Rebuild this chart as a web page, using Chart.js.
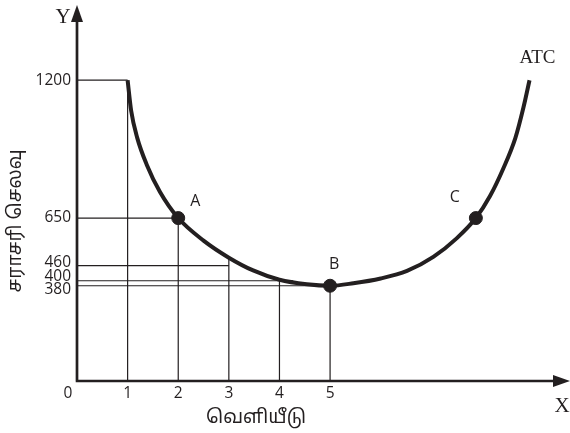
<!DOCTYPE html>
<html>
<head>
<meta charset="utf-8">
<title>ATC</title>
<script src="https://cdn.jsdelivr.net/npm/chart.js"></script>
<style>
  body { margin: 0; background: #fff; }
  canvas { display: block; }
</style>
</head>
<body>
<canvas id="myChart" width="570" height="433"></canvas>
<script>
// ATC curve
var output = [1, 1.07, 1.19, 1.38, 1.64, 2, 2.5, 3, 3.48, 4, 4.54, 5, 5.46, 6, 6.52, 7.04, 7.5, 7.88, 8.16, 8.42, 8.66, 8.82, 8.94];
var cost = [1200, 1078, 970, 862, 754, 650, 560, 492, 441, 404, 386, 380, 390, 409, 439, 495, 569, 650, 738, 847, 969, 1091, 1200];

// named points
var pointNames = ['A', 'B', 'C'];
var pointX = [2, 5, 7.88];
var pointY = [650, 380, 650];

// guide lines down to the axes
var guideX = [1, 2, 3, 4, 5];
var guideY = [1200, 650, 460, 400, 380];
var guideEndX = [1, 2, 3, 4.27, 5];
var guideTop = [1200, 650, 492, 404, 380];

var xTicks = [0, 1, 2, 3, 4, 5];
var yTicks = [1200, 650, 460, 400, 380];

var ink = '#231f20';
var tamil = '"Noto Sans Tamil", "Noto Sans", "DejaVu Sans", sans-serif';
var sans = '"Open Sans", "Noto Sans", sans-serif';
var serif = '"Liberation Serif", "DejaVu Serif", serif';

var datasets = [];
datasets.push({
    label: 'ATC',
    data: output.map(function (x, i) { return { x: x, y: cost[i] }; }),
    showLine: true,
    borderColor: ink,
    borderWidth: 4,
    pointRadius: 0,
    cubicInterpolationMode: 'monotone',
    order: 1
});
datasets.push({
    label: 'points',
    data: pointX.map(function (x, i) { return { x: x, y: pointY[i] }; }),
    showLine: false,
    pointRadius: 6.5,
    pointBackgroundColor: ink,
    pointBorderColor: ink,
    order: 0
});
guideX.forEach(function (gx, i) {
    datasets.push({
        data: [{ x: 0, y: guideY[i] }, { x: guideEndX[i], y: guideY[i] }],
        showLine: true, borderColor: ink, borderWidth: 1.2, pointRadius: 0, order: 2
    });
    datasets.push({
        data: [{ x: gx, y: guideTop[i] }, { x: gx, y: 0 }],
        showLine: true, borderColor: ink, borderWidth: 1.2, pointRadius: 0, order: 2
    });
});

// axes with arrows, tick labels and titles
var axesPlugin = {
    id: 'axesPlugin',
    afterDatasetsDraw: function (chart) {
        var c = chart.ctx;
        var xs = chart.scales.x, ys = chart.scales.y;
        var x0 = xs.getPixelForValue(0), y0 = ys.getPixelForValue(0);
        var top = chart.chartArea.top, right = chart.chartArea.right;
        c.save();
        c.strokeStyle = ink;
        c.fillStyle = ink;
        c.lineWidth = 2.7;
        c.beginPath();
        c.moveTo(x0, y0);
        c.lineTo(x0, top + 12);
        c.moveTo(x0 - 1.3, y0);
        c.lineTo(right - 12, y0);
        c.stroke();
        // arrow heads
        c.beginPath();
        c.moveTo(x0, top);
        c.lineTo(x0 - 6, top + 17);
        c.lineTo(x0 + 6, top + 17);
        c.closePath();
        c.fill();
        c.beginPath();
        c.moveTo(right, y0);
        c.lineTo(right - 17, y0 - 6);
        c.lineTo(right - 17, y0 + 6);
        c.closePath();
        c.fill();

        c.font = '15.5px ' + sans;
        c.textBaseline = 'middle';
        c.textAlign = 'right';
        var shift = { 460: -3, 400: -4, 380: 4 };
        yTicks.forEach(function (v) {
            c.fillText(String(v), x0 - 6, ys.getPixelForValue(v) + (shift[v] || 0));
        });
        c.textAlign = 'center';
        xTicks.forEach(function (v) {
            var px = xs.getPixelForValue(v);
            if (v === 0) px -= 9;
            c.fillText(String(v), px, y0 + 13);
        });

        // point names
        c.font = '16px ' + sans;
        var off = [[17, -17], [4, -21], [-21, -21]];
        pointNames.forEach(function (n, i) {
            c.fillText(n, xs.getPixelForValue(pointX[i]) + off[i][0], ys.getPixelForValue(pointY[i]) + off[i][1]);
        });

        // axis letters and curve name
        c.font = '21px ' + serif;
        c.fillText('Y', x0 - 14, top + 12);
        c.fillText('X', right - 8, y0 + 25);
        c.font = '19px ' + serif;
        c.fillText('ATC', xs.getPixelForValue(output[output.length - 1]) + 8, ys.getPixelForValue(cost[cost.length - 1]) - 22);

        // titles
        c.font = '19px ' + tamil;
        c.fillText('வெளியீடு', 256, y0 + 38);
        c.translate(17, 221);
        c.rotate(-Math.PI / 2);
        c.fillText('சராசரி செலவு', 0, 0);
        c.restore();
    }
};

var ctx = document.getElementById('myChart').getContext('2d');
var myChart = new Chart(ctx, {
    type: 'scatter',
    data: { datasets: datasets },
    options: {
        responsive: false,
        animation: false,
        devicePixelRatio: 1,
        layout: { autoPadding: false, padding: { left: 77, top: 5, right: 0, bottom: 52 } },
        scales: {
            x: { type: 'linear', min: 0, max: 9.74, display: false },
            y: { type: 'linear', min: 0, max: 1500, display: false }
        },
        plugins: {
            legend: { display: false },
            tooltip: { enabled: false }
        }
    },
    plugins: [axesPlugin]
});
</script>
</body>
</html>
